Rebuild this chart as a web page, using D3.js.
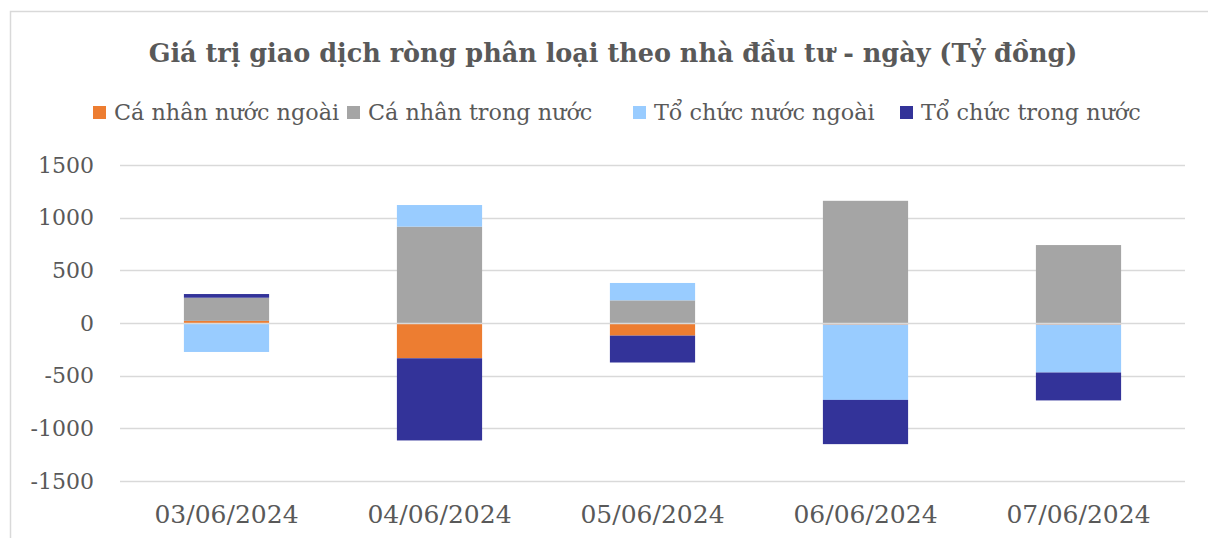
<!DOCTYPE html>
<html><head><meta charset="utf-8">
<script src="https://cdn.jsdelivr.net/npm/d3@7"></script>
<style>
html,body{margin:0;padding:0;background:#fff;}
svg{display:block;}
</style></head>
<body>
<svg id="chart" width="1208" height="538"></svg>
<script>
const categories = ["03/06/2024","04/06/2024","05/06/2024","06/06/2024","07/06/2024"];
const seriesNames = ["Cá nhân nước ngoài","Cá nhân trong nước","Tổ chức nước ngoài","Tổ chức trong nước"];
const caNhanNuocNgoai = [20, -335, -120, -15, -15];
const caNhanTrongNuoc = [220, 915, 215, 1160, 740];
const toChucNuocNgoai = [-275, 205, 165, -715, -455];
const toChucTrongNuoc = [35, -780, -255, -420, -265];
const yTicks = [-1500,-1000,-500,0,500,1000,1500];
const colors = ["#ED7D31","#A5A5A5","#99CCFF","#333399"];
const title = "Giá trị giao dịch ròng phân loại theo nhà đầu tư - ngày (Tỷ đồng)";

const seriesValues = [caNhanNuocNgoai, caNhanTrongNuoc, toChucNuocNgoai, toChucTrongNuoc];
const FONT = "'DejaVu Serif', serif";
const svg = d3.select("#chart");

// outer border
svg.append("path").attr("d","M10.5,538 L10.5,11.5 L1208,11.5")
  .attr("fill","none").attr("stroke","#d9d9d9").attr("stroke-width",1.5);

const plot = {left:120, right:1185, top:165, bottom:481};
const x = d3.scaleBand().domain(categories).range([plot.left, plot.right]).paddingInner(0.6).paddingOuter(0.3);
const y = d3.scaleLinear().domain([-1500,1500]).range([plot.bottom, plot.top]);

// gridlines
svg.append("g").selectAll("line").data(yTicks.filter(d=>d!==0)).join("line")
  .attr("x1",plot.left).attr("x2",plot.right)
  .attr("y1",d=>Math.round(y(d))+0.5).attr("y2",d=>Math.round(y(d))+0.5)
  .attr("stroke","#d9d9d9").attr("stroke-width",1.5);

// y axis labels
const yAxis = d3.axisLeft(y).tickValues(yTicks).tickSize(0).tickPadding(0).tickFormat(d=>String(d));
const ya = svg.append("g").attr("transform",`translate(94,0)`).call(yAxis);
ya.select(".domain").remove();
ya.selectAll("text").attr("font-family",FONT).attr("font-size",22).attr("fill","#595959");

// stacked data
const rows = categories.map((c,i)=>{ const r={cat:c}; seriesNames.forEach((s,j)=>r[s]=seriesValues[j][i]); return r;});
const stack = d3.stack().keys(seriesNames).offset(d3.stackOffsetDiverging);
const layers = stack(rows);

svg.append("g").selectAll("g").data(layers).join("g")
  .attr("fill",(d,i)=>colors[i])
  .selectAll("rect").data(d=>d).join("rect")
  .attr("x",d=>x(d.data.cat))
  .attr("width",x.bandwidth())
  .attr("y",d=>y(Math.max(d[0],d[1])))
  .attr("height",d=>Math.abs(y(d[0])-y(d[1])));

// zero axis line on top
svg.append("line").attr("x1",plot.left).attr("x2",plot.right)
  .attr("y1",Math.round(y(0))+0.5).attr("y2",Math.round(y(0))+0.5)
  .attr("stroke","#d9d9d9").attr("stroke-width",1.5);

// x axis labels
const xa = svg.append("g").attr("transform",`translate(0,${plot.bottom})`)
  .call(d3.axisBottom(x).tickSize(0).tickPadding(24));
xa.select(".domain").remove();
xa.selectAll("text").attr("font-family",FONT).attr("font-size",25).attr("fill","#595959");

// title
svg.append("text").attr("x",613).attr("y",62).attr("text-anchor","middle")
  .attr("font-family",FONT).attr("font-weight","bold").attr("font-size",25.5).attr("fill","#595959")
  .text(title);

// legend
const legendX = [93, 347, 633, 900];
const lg = svg.append("g").selectAll("g").data(seriesNames).join("g")
  .attr("transform",(d,i)=>`translate(${legendX[i]},106)`);
lg.append("rect").attr("width",13).attr("height",13).attr("fill",(d,i)=>colors[i]);
lg.append("text").attr("x",21).attr("y",14).attr("font-family",FONT).attr("font-size",22.3).attr("fill","#595959").text(d=>d);
</script>
</body></html>
